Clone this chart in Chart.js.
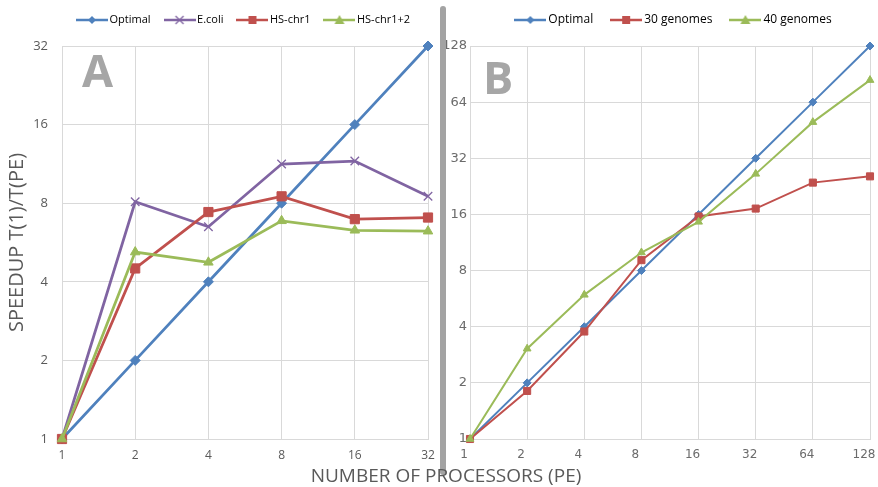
<!DOCTYPE html>
<html><head><meta charset="utf-8">
<script src="https://cdn.jsdelivr.net/npm/chart.js"></script>
<style>
html,body{margin:0;padding:0;background:#fff;width:878px;height:487px;overflow:hidden;}
#wa{position:absolute;left:0;top:0;width:490px;height:470px;}
#wb{position:absolute;left:444px;top:0;width:434px;height:470px;}
.sep{position:absolute;left:440px;top:6px;width:6px;height:469px;background:#a3a3a3;border-radius:3px;}
.panel{position:absolute;font:bold 45px 'Open Sans';line-height:1;color:#a6a6a6;}
#xt{position:absolute;left:0;width:892px;text-align:center;top:466px;font:19px 'Open Sans';line-height:1;color:#595959;white-space:nowrap;}
</style></head>
<body>
<div id="wa"><canvas id="ca"></canvas></div>
<div id="wb"><canvas id="cb"></canvas></div>
<div class="sep"></div>
<div class="panel" style="left:82px;top:47px;">A</div>
<div class="panel" style="left:483px;top:54px;">B</div>
<div id="xt">NUMBER OF PROCESSORS (PE)</div>
<script>
// ---- Panel A data ----
const peA = ['1','2','4','8','16','32'];
const optimalA = [1, 2, 4, 8, 16, 32];
const ecoli = [1, 8.1, 6.5, 11.3, 11.6, 8.5];
const hsChr1 = [1, 4.5, 7.4, 8.5, 6.95, 7.05];
const hsChr12 = [1, 5.2, 4.75, 6.85, 6.3, 6.25];
const yTicksA = [1, 2, 4, 8, 16, 32];

// ---- Panel B data ----
const peB = ['1','2','4','8','16','32','64','128'];
const optimalB = [1, 2, 4, 8, 16, 32, 64, 128];
const genomes30 = [1, 1.81, 3.77, 9.1, 15.6, 17.2, 23.7, 25.6];
const genomes40 = [1, 3.05, 5.93, 10.0, 14.6, 26.4, 50, 84];
const yTicksB = [1, 2, 4, 8, 16, 32, 64, 128];

const BLUE = '#4F81BD', PURPLE = '#8064A2', RED = '#C0504D', GREEN = '#9BBB59';
const GRID = '#d9d9d9', TXT = '#595959';

function icon(color, style, lw, r) {
  const c = document.createElement('canvas');
  c.width = 32; c.height = 16;
  const g = c.getContext('2d');
  g.strokeStyle = color; g.fillStyle = color; g.lineWidth = lw;
  g.beginPath(); g.moveTo(0, 8); g.lineTo(32, 8); g.stroke();
  const x = 16, y = 8;
  g.beginPath();
  if (style === 'rectRot') { g.moveTo(x, y - r); g.lineTo(x + r, y); g.lineTo(x, y + r); g.lineTo(x - r, y); g.closePath(); g.fill(); }
  else if (style === 'rect') { g.fillRect(x - r, y - r, 2 * r, 2 * r); }
  else if (style === 'triangle') { g.moveTo(x, y - r); g.lineTo(x + r, y + r * 0.8); g.lineTo(x - r, y + r * 0.8); g.closePath(); g.fill(); }
  else if (style === 'crossRot') { g.lineWidth = 1.3; g.moveTo(x - r, y - r); g.lineTo(x + r, y + r); g.moveTo(x + r, y - r); g.lineTo(x - r, y + r); g.stroke(); }
  return c;
}

function legendFix(h, dx, dy) {
  return { id: 'legendFix', afterInit(chart) {
    const lg = chart.legend; const f = lg.fit.bind(lg); const d = lg.draw.bind(lg);
    lg.fit = function () { f(); this.height = h; };
    lg.draw = function () { const c = chart.ctx; c.save(); c.translate(dx, -dy); d(); c.restore(); };
  }};
}

function ds(label, data, color, style, radius, lw, n, i, pbw) {
  return {
    label, data, borderColor: color, backgroundColor: color,
    pointBackgroundColor: color, pointBorderColor: color,
    pointStyle: style, pointRadius: radius, pointHoverRadius: radius,
    pointBorderWidth: pbw, borderWidth: lw, tension: 0, clip: false, order: n - i
  };
}

function makeChart(id, labels, yTicks, datasets, icons, opts) {
  const scales = {
    x: {
      type: 'category', offset: false,
      grid: { color: GRID, drawTicks: false },
      border: { color: GRID },
      ticks: { color: opts.tickColor, font: { family: opts.tickFont, size: 12 }, padding: 9, maxRotation: 0, autoSkip: false, labelOffset: opts.labelOffset },
      afterFit: (s) => { s.height = 31; s.paddingLeft = 0; s.paddingRight = 0; }
    },
    y: {
      type: 'logarithmic', min: 1, max: yTicks[yTicks.length - 1],
      afterBuildTicks: (s) => { s.ticks = yTicks.map(v => ({ value: v })); },
      grid: { color: GRID, drawTicks: false },
      border: { color: GRID },
      ticks: { color: opts.tickColor, font: { family: opts.tickFont, size: 13 }, padding: opts.yTickPad, callback: (v) => String(v) },
      title: opts.yTitle ? { display: true, text: opts.yTitle, color: TXT, font: { family: 'Open Sans', size: 20 }, padding: { top: 5, bottom: 0 } } : { display: false },
      afterFit: (s) => { s.width = opts.yWidth; }
    }
  };
  if (opts.rightSpacer) {
    scales.y2 = {
      type: 'linear', position: 'right', display: true,
      grid: { display: false, drawTicks: false }, border: { display: false }, ticks: { display: false },
      afterFit: (s) => { s.width = opts.rightSpacer; }
    };
  }
  return new Chart(document.getElementById(id), {
    type: 'line',
    data: { labels, datasets },
    plugins: [legendFix(46, opts.legDx, opts.legDy)],
    options: {
      responsive: true, maintainAspectRatio: false, animation: false,
      layout: { padding: { left: 0, right: opts.padRight, top: 0, bottom: 0 } },
      plugins: {
        tooltip: { enabled: false },
        legend: {
          position: 'top', fullSize: opts.legFull,
          labels: {
            usePointStyle: true, pointStyleWidth: 24, padding: opts.legPad,
            color: TXT, font: { family: 'Open Sans', size: opts.legSize },
            sort: (a, b) => a.datasetIndex - b.datasetIndex,
            generateLabels: (chart) => chart.data.datasets.map((d, i) => ({
              text: d.label, datasetIndex: i, pointStyle: icons[i],
              fillStyle: d.borderColor, strokeStyle: d.borderColor, lineWidth: 0, hidden: false
            }))
          }
        }
      },
      scales
    }
  });
}

makeChart('ca', peA, yTicksA, [
  ds('Optimal', optimalA, BLUE, 'rectRot', 5, 2.75, 4, 0, 1),
  ds('E.coli', ecoli, PURPLE, 'crossRot', 6, 2.75, 4, 1, 1.3),
  ds('HS-chr1', hsChr1, RED, 'rect', 6.5, 2.75, 4, 2, 1),
  ds('HS-chr1+2', hsChr12, GREEN, 'triangle', 5.5, 2.75, 4, 3, 1)
], [icon(BLUE, 'rectRot', 2.5, 4), icon(PURPLE, 'crossRot', 2.5, 4), icon(RED, 'rect', 2.5, 4), icon(GREEN, 'triangle', 2.5, 5)],
{ padRight: 0, rightSpacer: 62, legFull: true, legPad: 17, legSize: 11, legDx: 0, legDy: 2.5, labelOffset: 0, tickColor: TXT, tickFont: 'Open Sans', yTickPad: 14, yWidth: 62, yTitle: 'SPEEDUP T(1)/T(PE)' });

makeChart('cb', peB, yTicksB, [
  ds('Optimal', optimalB, BLUE, 'rectRot', 4, 2, 3, 0, 1),
  ds('30 genomes', genomes30, RED, 'rect', 5, 2, 3, 1, 1),
  ds('40 genomes', genomes40, GREEN, 'triangle', 4.5, 2, 3, 2, 1)
], [icon(BLUE, 'rectRot', 2.5, 4), icon(RED, 'rect', 2.5, 4), icon(GREEN, 'triangle', 2.5, 5)],
{ padRight: 8, rightSpacer: 0, legFull: false, legPad: 21, legSize: 12, legDx: 5, legDy: 7, labelOffset: -6, tickColor: '#6b6b6b', tickFont: 'DejaVu Sans', yTickPad: 3, yWidth: 26, yTitle: null });
</script>
</body></html>
